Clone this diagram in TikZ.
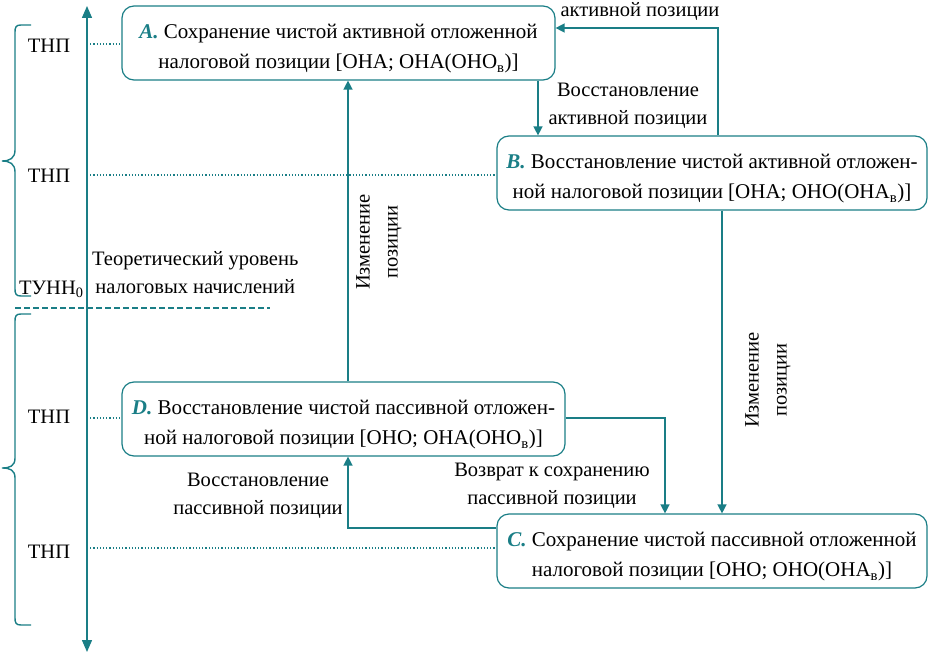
\documentclass[tikz,border=0pt]{standalone}
\usepackage{fontspec}
\setmainfont{Liberation Serif}
\usetikzlibrary{arrows.meta}
\definecolor{tl}{HTML}{1A7E86}
\newcommand{\lab}[1]{\textcolor{tl}{\textbf{\textit{#1}}}}
\newcommand{\sbv}{\textsubscript{в}}
\tikzset{
  box/.style={draw=tl, line width=1.2pt, rounded corners=12pt, minimum height=74pt, inner sep=0pt},
  boxtxt/.style={align=center, inner sep=0pt, font=\fontsize{21}{30}\selectfont},
  conn/.style={draw=tl, line width=1.4pt, -{Triangle[length=9pt,width=9pt]}},
  dot/.style={draw=tl, line width=1.2pt, dotted},
  txt/.style={align=center, font=\fontsize{20.5}{28}\selectfont, inner sep=0pt},
  brace/.style={draw=tl, line width=1.4pt}
}
\begin{document}
\begin{tikzpicture}[x=1pt,y=-1pt]
\useasboundingbox (0,0) rectangle (929,655);
% boxes
\node[box, minimum width=433pt] (A) at (338.5,43) {};
\node[boxtxt] (At) at (338.5,49) {\lab{A.} Сохранение чистой активной отложенной\\налоговой позиции [ОНА; ОНА(ОНО\sbv)]};
\node[box, minimum width=430pt] (B) at (712,173) {};
\node[boxtxt] (Bt) at (712,179) {\lab{B.} Восстановление чистой активной отложен-\\ной налоговой позиции [ОНА; ОНО(ОНА\sbv)]};
\node[box, minimum width=443pt] (D) at (343.5,419) {};
\node[boxtxt] (Dt) at (343.5,425) {\lab{D.} Восстановление чистой пассивной отложен-\\ной налоговой позиции [ОНО; ОНА(ОНО\sbv)]};
\node[box, minimum width=430pt] (C) at (712,551) {};
\node[boxtxt] (Ct) at (712,557) {\lab{C.} Сохранение чистой пассивной отложенной\\налоговой позиции [ОНО; ОНО(ОНА\sbv)]};
% axis
\coordinate (ax1) at (87,6);
\coordinate (ax2) at (87,652);
\draw[draw=tl, line width=1.4pt, {Triangle[length=12pt,width=10pt]}-{Triangle[length=12pt,width=10pt]}] (ax2) -- (ax1);
% left labels
\node[txt] (t1) at (49,46) {ТНП};
\node[txt] (t2) at (49,176) {ТНП};
\node[txt] (t3) at (49,417) {ТНП};
\node[txt] (t4) at (49,552) {ТНП};
\node[txt, anchor=west] (tunn) at (19,289) {ТУНН\textsubscript{0}};
\node[txt, anchor=west] (theo) at (92,273) {Теоретический уровень\\налоговых начислений};
% dotted
\coordinate (d1) at (87,44); \coordinate (d2) at (87,175);
\coordinate (d3) at (87,418); \coordinate (d4) at (87,548);
\draw[dot] (d1) -- (d1 -| A.west);
\draw[dot] (d2) -- (d2 -| B.west);
\draw[dot] (d3) -- (d3 -| D.west);
\draw[dot] (d4) -- (d4 -| C.west);
% dashed level
\coordinate (l1) at (15,308); \coordinate (l2) at (270,308);
\draw[draw=tl, line width=1.4pt, dash pattern=on 6pt off 3pt] (l1) -- (l2);
% braces
\draw[brace] (31,25) -- (21,25) .. controls (16,25) and (15,27) .. (15,32) -- (15,150) .. controls (15,158) and (10,161) .. (2,161) .. controls (10,161) and (15,164) .. (15,172) -- (15,289) .. controls (15,294) and (16,296) .. (21,296) -- (31,296);
\draw[brace] (31,314) -- (21,314) .. controls (16,314) and (15,316) .. (15,321) -- (15,458) .. controls (15,466) and (10,468) .. (2,468) .. controls (10,468) and (15,470) .. (15,478) -- (15,618) .. controls (15,623) and (16,625) .. (21,625) -- (31,625);
% connectors
\coordinate (bA) at (718,28);
\draw[conn] (B.north -| bA) |- (A.east |- bA);
\node[txt] (l0) at (640,11) {активной позиции};
\draw[conn] (A.south -| 538,0) -- (B.north -| 538,0);
\node[txt] (lAB) at (628,106) {Восстановление\\активной позиции};
\draw[conn] (D.north -| 348,0) -- (A.south -| 348,0);
\node[txt, rotate=90] (lDA) at (379,242) {Изменение\\позиции};
\draw[conn] (B.south -| 722,0) -- (C.north -| 722,0);
\node[txt, rotate=90] (lBC) at (768,380) {Изменение\\позиции};
\coordinate (dc) at (665,418);
\draw[conn] (D.east |- dc) -| (C.north -| dc);
\node[txt] (lDC) at (552,486) {Возврат к сохранению\\пассивной позиции};
\coordinate (cd) at (348,528);
\draw[conn] (C.west |- cd) -| (D.south -| cd);
\node[txt] (lCD) at (258,496) {Восстановление\\пассивной позиции};
\end{tikzpicture}
\end{document}
